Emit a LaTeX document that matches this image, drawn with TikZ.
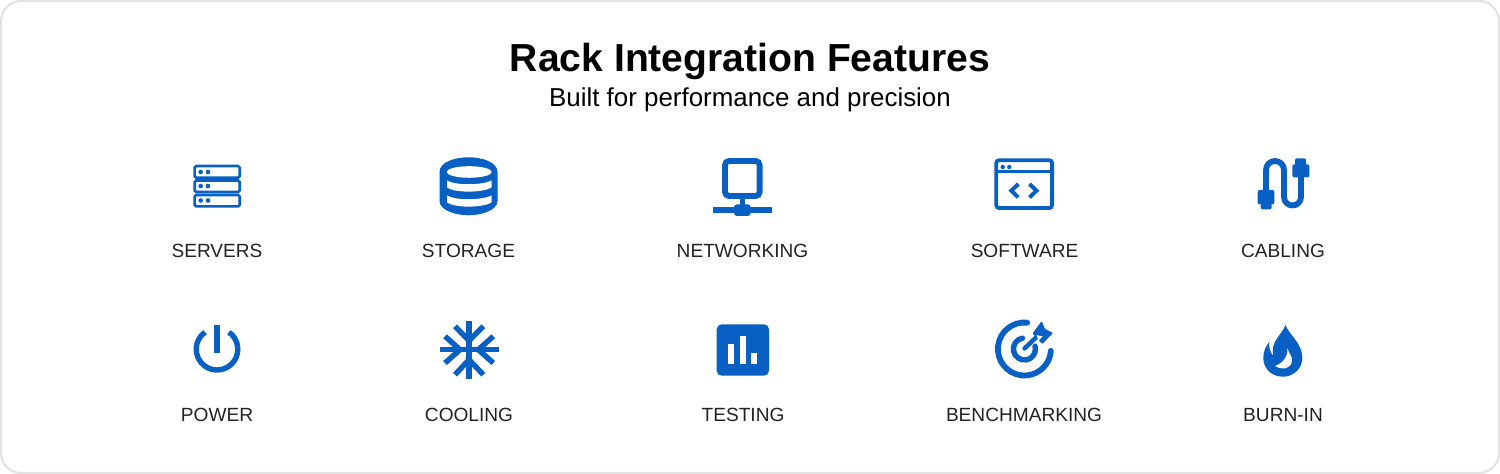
\documentclass[tikz,border=0pt]{standalone}
\usepackage{fontspec}
\setmainfont{Liberation Sans}
\definecolor{iconblue}{HTML}{0860C4}
\definecolor{labelgray}{HTML}{222222}
\definecolor{frameline}{HTML}{E2E2E2}
\tikzset{
  headline/.style={anchor=base, font=\fontsize{19.55}{24}\selectfont\bfseries, text=black},
  subline/.style={anchor=base, font=\fontsize{12.95}{16}\selectfont, text=black},
  featlabel/.style={anchor=base, font=\fontsize{9.55}{11}\selectfont, text=labelgray},
  iconstroke/.style={draw=iconblue, line width=#1},
  iconfill/.style={fill=iconblue},
  iconhole/.style={fill=white}
}
\begin{document}
\begin{tikzpicture}[x=0.5pt,y=-0.5pt]
  \useasboundingbox (0,0) rectangle (1500,474);
  \draw[frameline, line width=1pt, rounded corners=10pt, fill=white] (1,1) rectangle (1499,473);

  \node[headline] (title) at (750,71.5) {Rack Integration Features};
  \node[subline] (subtitle) at (750,106.5) {Built for performance and precision};

  \node[featlabel] (servers) at (217,257.3) {SERVERS};
  \node[featlabel] (storage) at (468.5,257.3) {STORAGE};
  \node[featlabel] (networking) at (742.5,257.3) {NETWORKING};
  \node[featlabel] (software) at (1024.5,257.3) {SOFTWARE};
  \node[featlabel] (cabling) at (1283,257.3) {CABLING};
  \node[featlabel] (power) at (217,422) {POWER};
  \node[featlabel] (cooling) at (469,422) {COOLING};
  \node[featlabel] (testing) at (743,422) {TESTING};
  \node[featlabel] (benchmarking) at (1024,422) {BENCHMARKING};
  \node[featlabel] (burnin) at (1283,422) {BURN-IN};

  % servers
  \draw[iconstroke=1.3pt, rounded corners=0.8pt] (194.6,166) rectangle (239.7,177.7);
  \draw[iconstroke=1.3pt, rounded corners=0.8pt] (194.6,180.5) rectangle (239.7,192);
  \draw[iconstroke=1.3pt, rounded corners=0.8pt] (194.6,195) rectangle (239.7,206.4);
  \fill[iconfill] (200.7,172) circle (2.3) (208,172) circle (2.3);
  \fill[iconfill] (200.7,186) circle (2.3) (208,186) circle (2.3);
  \fill[iconfill] (200.7,200.5) circle (2.3) (208,200.5) circle (2.3);

  % storage
  \fill[iconfill] (439.5,172) .. controls (439.5,162) and (455,157.3) .. (468.5,157.3)
    .. controls (482,157.3) and (497.5,162) .. (497.5,172) -- (497.5,201)
    .. controls (497.5,210) and (482,215.3) .. (468.5,215.3)
    .. controls (455,215.3) and (439.5,210) .. (439.5,201) -- cycle;
  \fill[iconhole] (469.2,172) ellipse (22.5 and 5.8);
  \fill[iconhole] (447,180.5) .. controls (455,185.5) and (482,185.5) .. (491.5,180.5) -- (491.5,187.5)
    .. controls (482,193) and (455,193) .. (447,187.5) -- cycle;
  \fill[iconhole] (447,195.5) .. controls (455,200.5) and (482,200.5) .. (491.5,195.5) -- (491.5,202.5)
    .. controls (482,208) and (455,208) .. (447,202.5) -- cycle;

  % networking
  \draw[iconstroke=2.9pt, rounded corners=2pt] (725,161) rectangle (759.6,196);
  \draw[iconstroke=2.5pt] (742,197) -- (742,208);
  \fill[iconfill] (713.3,207.3) rectangle (771.7,212.7);
  \fill[iconfill, rounded corners=1.5pt] (734,204.3) rectangle (750.7,216);

  % software
  \draw[iconstroke=1.9pt, rounded corners=1.5pt] (996.2,160.2) rectangle (1052.1,208.1);
  \draw[iconstroke=1.7pt] (996.2,171.7) -- (1052.1,171.7);
  \fill[iconfill] (1002.7,167) circle (2.2) (1009.3,167) circle (2.2);
  \draw[iconstroke=2pt] (1018.3,184) -- (1011.3,190.7) -- (1018.3,197.4);
  \draw[iconstroke=2pt] (1029.5,184) -- (1036.5,190.7) -- (1029.5,197.4);

  % cabling
  \draw[iconstroke=2.9pt] (1266,192) -- (1266,170) arc (180:360:9) -- (1284,197) arc (180:0:8.5) -- (1301,176);
  \fill[iconfill, rounded corners=1pt] (1257.7,190) rectangle (1274.3,204.5);
  \fill[iconfill, rounded corners=1pt] (1260.7,203) rectangle (1271.7,209.3);
  \fill[iconfill, rounded corners=1pt] (1292.3,164.3) rectangle (1309.3,177.3);
  \fill[iconfill, rounded corners=1pt] (1295,158.3) rectangle (1306,166);

  % power
  \draw[iconstroke=2.7pt] (217,349.2) ++(-55:20.8) arc (-55:235:20.8);
  \fill[iconfill] (214.2,324.7) rectangle (220,352.7);

  % cooling
  \draw[iconstroke=2.7pt] (469,321.4) -- (469,379);
  \draw[iconstroke=2.7pt] (440,349.7) -- (498.6,349.7);
  \draw[iconstroke=2.7pt] (455,326.3) -- (469,340.7) -- (483.3,326.3);
  \draw[iconstroke=2.7pt] (455,374.7) -- (469,359.7) -- (483.3,374.7);
  \draw[iconstroke=2.7pt] (445,336.3) -- (460,349.7) -- (445,363);
  \draw[iconstroke=2.7pt] (493.3,336.3) -- (478.3,349.7) -- (493.3,363);

  % testing
  \fill[iconfill, rounded corners=2.5pt] (716.7,324.3) rectangle (769,375.7);
  \fill[iconhole] (728.3,344.3) rectangle (734,364);
  \fill[iconhole] (740,336) rectangle (745.7,364);
  \fill[iconhole] (751.3,353) rectangle (757,364);

  % benchmarking
  \draw[iconstroke=2.9pt, line cap=round] (1024.4,349) ++(-84:26.5) arc (-84:-356:26.5);
  \draw[iconstroke=2.7pt, line cap=round] (1024.4,349) ++(-100:11) arc (-100:-375:11);
  \draw[iconstroke=2.2pt, line cap=round] (1024.5,348.5) -- (1037,336.5);
  \fill[iconfill, rounded corners=0.5pt] (1032.5,333.5) -- (1041.7,321) -- (1044.8,328.8) -- (1053,333) -- (1042.3,344) -- cycle;
  \fill[iconhole] (1036.5,335) -- (1042.5,336.5) -- (1038.5,340.5) -- cycle;

  % burn-in
  \fill[iconfill] (1285.5,325) .. controls (1289,335) and (1302.3,343) .. (1302.3,358)
    .. controls (1302.3,369) and (1293,376.7) .. (1283,376.7)
    .. controls (1272,376.7) and (1263.3,369) .. (1263.3,358)
    .. controls (1263.3,351) and (1266,346) .. (1269.3,341.7)
    .. controls (1268.5,347) and (1270,352) .. (1273.3,356)
    .. controls (1270,342) and (1281,336) .. (1285.5,325) -- cycle;
  \fill[iconhole] (1287.5,348.3) .. controls (1288.5,353) and (1292.5,356) .. (1292,361)
    .. controls (1291.5,366) and (1287,368.5) .. (1283.5,368.5)
    .. controls (1280.5,368.5) and (1277,367.5) .. (1275,366)
    .. controls (1281,364) and (1288,358) .. (1287.5,348.3) -- cycle;
\end{tikzpicture}
\end{document}
